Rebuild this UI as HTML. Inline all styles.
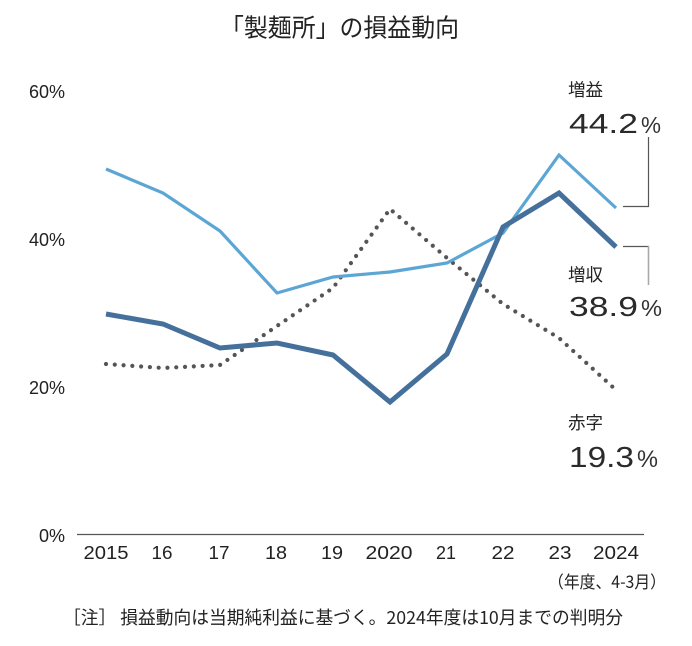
<!DOCTYPE html>
<html>
<head>
<meta charset="utf-8">
<style>
html,body{margin:0;padding:0;background:#fff;}
svg{display:block;}
text{font-family:"Liberation Sans","Noto Sans CJK JP",sans-serif;fill:#222;}
.cjk{font-family:"Noto Sans CJK JP","Liberation Sans",sans-serif;}
</style>
</head>
<body>
<svg width="692" height="646" viewBox="0 0 692 646" xmlns="http://www.w3.org/2000/svg">
<rect width="692" height="646" fill="#fff"/>
<!-- title -->
<text class="cjk" x="220" y="36.5" font-size="25" textLength="239" lengthAdjust="spacingAndGlyphs">「製麺所」の損益動向</text>

<!-- y labels -->
<g font-size="18" text-anchor="end">
<text x="65" y="98">60%</text>
<text x="65" y="246">40%</text>
<text x="65" y="394">20%</text>
<text x="65" y="542">0%</text>
</g>

<!-- axis -->
<line x1="77" y1="534.5" x2="644" y2="534.5" stroke="#555" stroke-width="1.2"/>

<!-- x labels -->
<g font-size="18.5" text-anchor="middle">
<text x="106" y="559" textLength="45" lengthAdjust="spacingAndGlyphs">2015</text>
<text x="162" y="559" textLength="21" lengthAdjust="spacingAndGlyphs">16</text>
<text x="219" y="559" textLength="21" lengthAdjust="spacingAndGlyphs">17</text>
<text x="276" y="559" textLength="22" lengthAdjust="spacingAndGlyphs">18</text>
<text x="332" y="559" textLength="22" lengthAdjust="spacingAndGlyphs">19</text>
<text x="389" y="559" textLength="47" lengthAdjust="spacingAndGlyphs">2020</text>
<text x="446" y="559" textLength="20" lengthAdjust="spacingAndGlyphs">21</text>
<text x="503" y="559" textLength="23" lengthAdjust="spacingAndGlyphs">22</text>
<text x="560" y="559" textLength="23" lengthAdjust="spacingAndGlyphs">23</text>
<text x="616" y="559" textLength="46" lengthAdjust="spacingAndGlyphs">2024</text>
</g>
<text class="cjk" x="548" y="588" font-size="17" textLength="118" lengthAdjust="spacingAndGlyphs">（年度、4-3月）</text>

<!-- note -->
<text class="cjk" x="63" y="624" font-size="18" textLength="560" lengthAdjust="spacingAndGlyphs">［注］ 損益動向は当期純利益に基づく。2024年度は10月までの判明分</text>

<!-- dotted series -->
<polyline fill="none" stroke="#555" stroke-width="4.2" stroke-linecap="round" stroke-dasharray="0 8.8"
 points="106,364 163,368 220,365 277,326 333,288 390,209 447,258 503,304 559,338 616,390"/>

<!-- light series -->
<polyline fill="none" stroke="#5ba6d4" stroke-width="3.2" stroke-linejoin="miter"
 points="106,169 163,193 220,231 277,293 333,277 390,272 447,263 503,233 559,155 616,208"/>

<!-- dark series -->
<polyline fill="none" stroke="#44709b" stroke-width="5" stroke-linejoin="miter"
 points="106,314 163,324 220,348 277,343 333,355 390,402 447,354 503,227 559,193 616,247"/>

<!-- brackets -->
<polyline fill="none" stroke="#555" stroke-width="1.2" points="623,206.5 648.5,206.5 648.5,137"/>
<line x1="623" y1="246.5" x2="649" y2="246.5" stroke="#555" stroke-width="1.2"/>
<line x1="648.5" y1="246" x2="648.5" y2="285" stroke="#aaa" stroke-width="1.6"/>

<!-- labels -->
<text class="cjk" x="568" y="96" font-size="17.5">増益</text>
<text x="569" y="133" font-size="28" textLength="69" lengthAdjust="spacingAndGlyphs" style="fill:#2a2a2a">44.2</text>
<text x="641" y="133" font-size="23" textLength="20" lengthAdjust="spacingAndGlyphs" style="fill:#333">%</text>

<text class="cjk" x="568" y="281" font-size="17.5">増収</text>
<text x="569" y="316" font-size="28" textLength="69" lengthAdjust="spacingAndGlyphs" style="fill:#2a2a2a">38.9</text>
<text x="641" y="316" font-size="23" textLength="21" lengthAdjust="spacingAndGlyphs" style="fill:#333">%</text>

<text class="cjk" x="568" y="429" font-size="17.5">赤字</text>
<text x="569" y="467" font-size="29" textLength="65" lengthAdjust="spacingAndGlyphs" style="fill:#2a2a2a">19.3</text>
<text x="637" y="467" font-size="24" textLength="21" lengthAdjust="spacingAndGlyphs" style="fill:#333">%</text>
</svg>
</body>
</html>
